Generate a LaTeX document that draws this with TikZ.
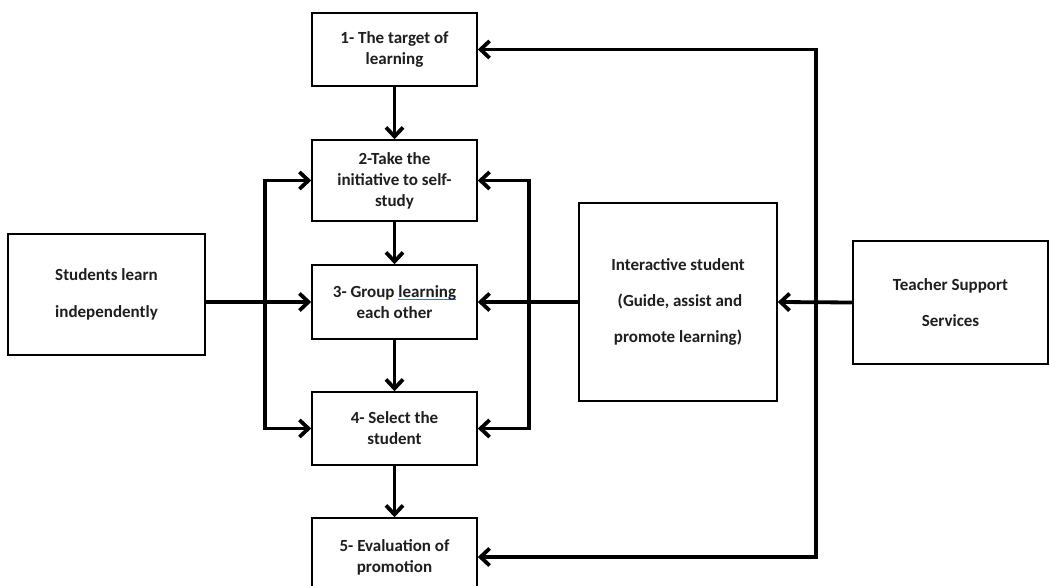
\documentclass[tikz,border=0pt]{standalone}
\usepackage{fontspec}
\setmainfont{Carlito}
\usetikzlibrary{arrows.meta}
\definecolor{drawColor}{RGB}{0,0,0}
\definecolor{textColor}{RGB}{30,30,30}
\definecolor{squigColor}{RGB}{50,110,255}
\newcommand{\squig}[1]{\setbox0\hbox{#1}\rlap{\color{squigColor}\rule[-3pt]{\wd0}{1.4pt}}\box0}
\tikzset{
  boxnode/.style={draw=drawColor,line width=1.6pt,fill=white,align=center,inner sep=2pt,
    text=textColor,font=\fontsize{17}{21}\selectfont\bfseries},
  flow/.style={draw=drawColor,line width=3.8pt,-{Straight Barb[length=9pt,width=17pt]}},
  twoway/.style={draw=drawColor,line width=3.8pt,
    {Straight Barb[length=9pt,width=17pt]}-{Straight Barb[length=9pt,width=17pt]}}
}
\begin{document}
\begin{tikzpicture}[x=1pt,y=1pt]
\path[use as bounding box,fill=white] (0,0) rectangle (1050,586);
\clip (0,0) rectangle (1050,586);

\node[boxnode,minimum width=165pt,minimum height=73pt] (t1) at (394.5,536.5) {1- The target of\\learning};
\node[boxnode,minimum width=165pt,minimum height=81pt] (t2) at (394.5,405.5) {2-Take the\\initiative to self-\\study};
\node[boxnode,minimum width=165pt,minimum height=74pt] (t3) at (394.5,284) {3- Group \squig{learning}\\each other};
\node[boxnode,minimum width=165pt,minimum height=73pt] (t4) at (394.5,157.5) {4- Select the\\student};
\node[boxnode,minimum width=165pt,minimum height=78pt] (t5) at (394.5,29) {5- Evaluation of\\promotion};

\node[boxnode,minimum width=197pt,minimum height=121pt] (indep) at (106.5,291.5) {Students learn\\[16pt]independently};
\node[boxnode,minimum width=198pt,minimum height=198pt] (inter) at (678,284) {Interactive student\\[15pt]\ (Guide, assist and\\[15pt]promote learning)};
\node[boxnode,minimum width=195pt,minimum height=123pt] (teacher) at (950.5,283.5) {Teacher Support\\[15pt]Services};

\coordinate (lb) at (265,0);
\coordinate (rb) at (529,0);
\coordinate (far) at (816,0);

\draw[flow] (t1) -- (t2);
\draw[flow] (t2) -- (t3);
\draw[flow] (t3) -- (t4);
\draw[flow] (t4) -- (t5);

\draw[twoway,line join=miter] (t2.west) -- (t2.west -| lb) -- (t4.west -| lb) -- (t4.west);
\draw[twoway,line join=miter] (t2.east) -- (t2.east -| rb) -- (t4.east -| rb) -- (t4.east);
\draw[flow] (indep.east |- t3) -- (t3.west);
\draw[flow] (inter.west |- t3) -- (t3.east);

\draw[twoway,line join=miter] (t1.east) -- (t1.east -| far) -- (t5.east -| far) -- (t5.east);
\draw[flow] (teacher.west) -- (inter.east);
\end{tikzpicture}
\end{document}
